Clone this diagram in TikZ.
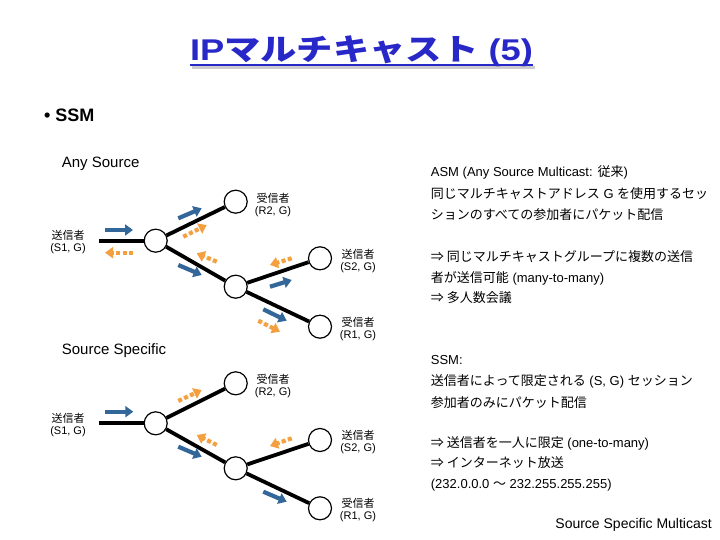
\documentclass[tikz,border=0pt]{standalone}
\usepackage{fontspec}
\usepackage{graphicx}
\setmainfont{Liberation Sans}
\newfontfamily\cjk{Noto Sans CJK JP}
\usetikzlibrary{arrows.meta}
\newcommand\J[1]{{\cjk #1}}
\definecolor{arrblue}{RGB}{51,102,153}
\definecolor{arrorange}{RGB}{244,160,64}
\definecolor{titleblue}{RGB}{40,40,200}
\tikzset{
  router/.style={circle,draw=black,line width=1.2pt,fill=white,minimum size=23pt,inner sep=0pt},
  edge/.style={draw=black,line width=3.8pt},
  bluearr/.style={draw=arrblue,fill=arrblue,line width=4.2pt,-{Triangle[length=8pt,width=11pt]}},
  orarr/.style={draw=arrorange,fill=arrorange,line width=4.2pt,dash pattern=on 4pt off 2.5pt,-{Triangle[length=8pt,width=11pt]}},
  lbl/.style={align=center,font=\fontsize{11}{12}\selectfont,inner sep=0pt},
  head/.style={anchor=west,font=\fontsize{15}{17}\selectfont,inner sep=0pt},
  txt/.style={anchor=west,font=\fontsize{13}{15}\selectfont,inner sep=0pt}
}
\begin{document}
\begin{tikzpicture}[x=1pt,y=-1pt]
\useasboundingbox[fill=white] (0,0) rectangle (720,540);
% title
\draw[gray!40,line width=2.5pt] (192,67.5) -- (535,67.5);
\draw[titleblue,line width=2.5pt] (190,65) -- (533,65);
\node[text=titleblue,font=\bfseries\fontsize{30}{34}\selectfont,inner sep=0pt] (title) at (361.5,51.5)
  {\scalebox{1.21}[1]{IP\J{マルチキャスト} (5)}};
\node[anchor=west,font=\bfseries\fontsize{18}{20}\selectfont,inner sep=0pt] (ssm) at (44,115) {\textbullet\ SSM};

% ---------- Any Source ----------
\node[head] (anyh) at (61.7,164) {Any Source};
\coordinate (s1a) at (99.3,240.7);
\node[router] (a1) at (155.7,240.7) {};
\node[router] (r2a) at (235.7,201.7) {};
\node[router] (b1) at (235.7,286.7) {};
\node[router] (s2a) at (320,258.3) {};
\node[router] (r1a) at (320,326.7) {};
\draw[edge] (s1a) -- (a1.west);
\draw[edge] (a1) -- (r2a);
\draw[edge] (a1) -- (b1);
\draw[edge] (b1) -- (s2a);
\draw[edge] (b1) -- (r1a);
\node[lbl] (ls1a) at (68,242) {\J{送信者}\\(S1, G)};
\node[lbl] (lr2a) at (273,205) {\J{受信者}\\(R2, G)};
\node[lbl] (ls2a) at (358,261) {\J{送信者}\\(S2, G)};
\node[lbl] (lr1a) at (358,329) {\J{受信者}\\(R1, G)};
\draw[bluearr] (105,230) -- (133,230);
\draw[orarr] (133,252.7) -- (105,252.7);
\draw[bluearr] (178.3,218.3) -- (201.7,208.3);
\draw[orarr] (183.3,236.7) -- (206.7,225);
\draw[bluearr] (178.3,265) -- (201.7,275);
\draw[orarr] (216.7,261.7) -- (196.7,253.3);
\draw[orarr] (291.7,258.3) -- (270,265);
\draw[bluearr] (270,286.7) -- (291.7,280);
\draw[bluearr] (263.3,309.3) -- (286.7,320.7);
\draw[orarr] (258.3,320.7) -- (280,331.7);

% ---------- Source Specific ----------
\node[head] (ssh) at (61.7,351) {Source Specific};
\coordinate (s1b) at (99.3,423.3);
\node[router] (a2) at (155.7,423.3) {};
\node[router] (r2b) at (235.7,383.3) {};
\node[router] (b2) at (235.7,468.3) {};
\node[router] (s2b) at (320,440) {};
\node[router] (r1b) at (320,508.3) {};
\draw[edge] (s1b) -- (a2.west);
\draw[edge] (a2) -- (r2b);
\draw[edge] (a2) -- (b2);
\draw[edge] (b2) -- (s2b);
\draw[edge] (b2) -- (r1b);
\node[lbl] (ls1b) at (68,425) {\J{送信者}\\(S1, G)};
\node[lbl] (lr2b) at (273,385.5) {\J{受信者}\\(R2, G)};
\node[lbl] (ls2b) at (358,442) {\J{送信者}\\(S2, G)};
\node[lbl] (lr1b) at (358,510.3) {\J{受信者}\\(R1, G)};
\draw[bluearr] (105,411.7) -- (133.3,411.7);
\draw[orarr] (178.3,401) -- (201.7,390);
\draw[bluearr] (178.3,446.7) -- (201.7,456.7);
\draw[orarr] (216.7,445) -- (196.7,435);
\draw[orarr] (291.7,438.3) -- (270,446);
\draw[bluearr] (263.3,491.7) -- (286.7,501.7);

% ---------- right text ----------
\node[txt] (t1) at (430.7,172.7) {ASM (Any Source Multicast: \J{従来})};
\node[txt] (t2) at (430.7,193.5) {\J{同じマルチキャストアドレス} G \J{を使用するセッ}};
\node[txt] (t3) at (430.7,214.5) {\J{ションのすべての参加者にパケット配信}};
\node[txt] (t4) at (430.7,256.7) {\J{⇒ 同じマルチキャストグループに複数の送信}};
\node[txt] (t5) at (430.7,278) {\J{者が送信可能} (many-to-many)};
\node[txt] (t6) at (430.7,297.5) {\J{⇒ 多人数会議}};
\node[txt] (u1) at (430.7,360) {SSM:};
\node[txt] (u2) at (430.7,381) {\J{送信者によって限定される} (S, G) \J{セッション}};
\node[txt] (u3) at (430.7,403) {\J{参加者のみにパケット配信}};
\node[txt] (u4) at (430.7,443) {\J{⇒ 送信者を一人に限定} (one-to-many)};
\node[txt] (u5) at (430.7,463) {\J{⇒ インターネット放送}};
\node[txt] (u6) at (430.7,485) {(232.0.0.0 \J{〜} 232.255.255.255)};
\node[anchor=east,font=\fontsize{14}{16}\selectfont,inner sep=0pt] (ssmfull) at (712,525) {Source Specific Multicast};
\end{tikzpicture}
\end{document}
